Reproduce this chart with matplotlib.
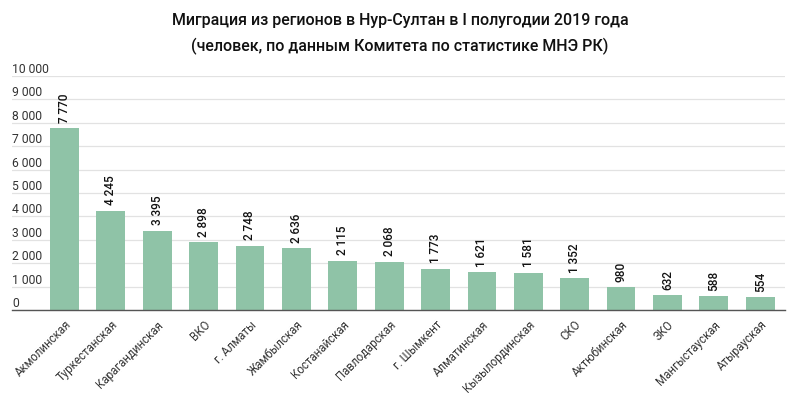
import numpy as np
import matplotlib.pyplot as plt

plt.rcParams['font.family'] = ['Roboto', 'DejaVu Sans']

# data
regions = ['Акмолинская', 'Туркестанская', 'Карагандинская', 'ВКО', 'г. Алматы',
           'Жамбылская', 'Костанайская', 'Павлодарская', 'г. Шымкент', 'Алматинская',
           'Кызылординская', 'СКО', 'Актюбинская', 'ЗКО', 'Мангыстауская', 'Атырауская']
migrants = [7770, 4245, 3395, 2898, 2748, 2636, 2115, 2068, 1773, 1621,
            1581, 1352, 980, 632, 588, 554]
y_ticks = list(range(0, 10001, 1000))


def fmt(v):
    return '{:,}'.format(v).replace(',', ' ')


fig = plt.figure(figsize=(8, 3.95), dpi=100)
ax = fig.add_axes([0.015, 0.215, 0.966, 0.593])

x = np.arange(len(regions))
ax.bar(x, migrants, width=0.62, color='#8fc3a7', zorder=2)

# value labels over the bars
for xi, v in zip(x, migrants):
    ax.annotate(fmt(v), (xi, v), xytext=(0, 4), textcoords='offset points',
                rotation=90, ha='center', va='bottom', fontsize=8.5,
                fontweight='medium', color='#111111')

ax.set_xlim(-1.13, 15.53)
ax.set_ylim(0, 10000)
ax.set_yticks(y_ticks)
ax.yaxis.grid(True, color='#e2e2e2', linewidth=0.9, zorder=0)
ax.tick_params(axis='y', length=0, labelleft=False)
# y labels sit inside the plot, just above each gridline
for t in y_ticks:
    ax.annotate(fmt(t), (0, t), xycoords=ax.get_yaxis_transform(),
                xytext=(0, 0), textcoords='offset points', ha='left',
                va='bottom', fontsize=8.7, color='#333333')
ax.set_xticks(x)
ax.set_xticklabels(regions, rotation=45, ha='right', rotation_mode='anchor',
                   fontsize=8.3, color='#333333')
ax.tick_params(axis='x', length=0, pad=6)

for s in ['top', 'right', 'left']:
    ax.spines[s].set_visible(False)
ax.spines['bottom'].set_color('#555555')
ax.spines['bottom'].set_linewidth(1.0)

fig.text(0.5, 0.948, 'Миграция из регионов в Нур-Султан в I полугодии 2019 года',
         ha='center', va='center', fontsize=11.5, fontweight='medium', color='#111111')
fig.text(0.5, 0.883, '(человек, по данным Комитета по статистике МНЭ РК)',
         ha='center', va='center', fontsize=11.5, fontweight='medium', color='#111111')

fig.savefig('out.png', dpi=100)
